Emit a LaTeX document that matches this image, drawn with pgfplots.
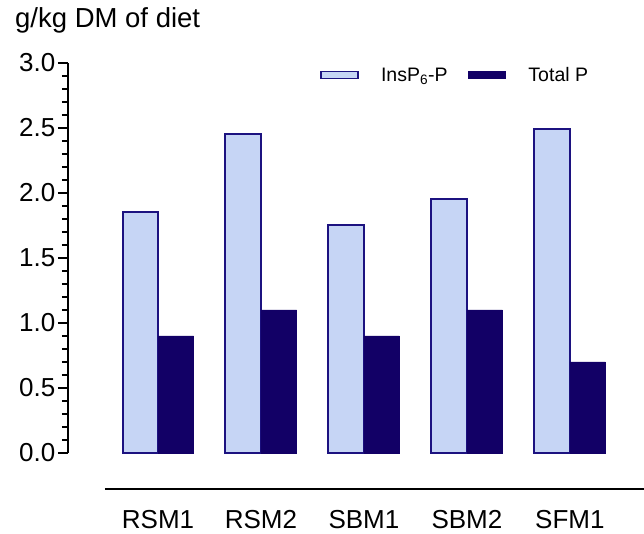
\documentclass[border=0pt]{standalone}
\usepackage{fontspec}
\setmainfont{Liberation Sans}
\usepackage{pgfplots}
\pgfplotsset{compat=1.18}
\definecolor{lightbar}{RGB}{198,213,245}
\definecolor{edgeblue}{RGB}{28,18,128}
\definecolor{darkbar}{RGB}{18,0,102}
\begin{document}
\begin{tikzpicture}
\path[use as bounding box] (-105pt,-81pt) rectangle (539pt,453pt);
\begin{axis}[
  at={(0pt,0pt)}, anchor=south west,
  scale only axis, width=539pt, height=390pt,
  xmin=-0.515, xmax=4.72, ymin=0, ymax=3,
  axis x line*=bottom, axis y line*=left,
  axis x line shift=36pt, axis y line shift=37pt,
  axis line style={line width=1.6pt, black},
  clip=false,
  xtick={0,1,2,3,4},
  xticklabels={RSM1,RSM2,SBM1,SBM2,SFM1},
  x tick style={draw=none},
  xticklabel style={yshift=-8pt},
  ytick={0,0.5,1,1.5,2,2.5,3},
  minor y tick num=4,
  tick align=outside,
  y tick style={line width=1.6pt, black},
  major tick length=10pt, minor tick length=6pt,
  yticklabel style={inner xsep=2.5pt, /pgf/number format/.cd, fixed, fixed zerofill, precision=1, assume math mode=true},
  tick label style={font=\fontsize{26}{30}\selectfont},
  legend style={at={(0.399,0.969)}, anchor=west, draw=none, fill=none, inner sep=0pt,
    font=\fontsize{19.5}{22}\selectfont, legend columns=2,
    /tikz/every odd column/.append style={column sep=20pt},
    /tikz/every even column/.append style={column sep=18pt}},
]
\addplot[ybar, bar width=0.345, bar shift=-0.1725, fill=lightbar, draw=edgeblue, line width=2pt,
  legend image code/.code={\draw[fill=lightbar, draw=edgeblue, line width=1.8pt] (0pt,-3.5pt) rectangle (37pt,3.5pt);}]
  coordinates {(0,1.85) (1,2.45) (2,1.75) (3,1.95) (4,2.49)};
\addlegendentry{InsP\textsubscript{6}-P}
\addplot[ybar, bar width=0.345, bar shift=0.1725, fill=darkbar, draw=darkbar, line width=0.5pt,
  legend image code/.code={\draw[fill=darkbar, draw=darkbar, line width=1.8pt] (0pt,-3.5pt) rectangle (37pt,3.5pt);}]
  coordinates {(0,0.9) (1,1.1) (2,0.9) (3,1.1) (4,0.7)};
\addlegendentry{Total P}
\end{axis}
\node[anchor=base west, font=\fontsize{27.5}{32}\selectfont, inner sep=0pt] at (-90pt,425pt) {g/kg DM of diet};
\end{tikzpicture}
\end{document}
